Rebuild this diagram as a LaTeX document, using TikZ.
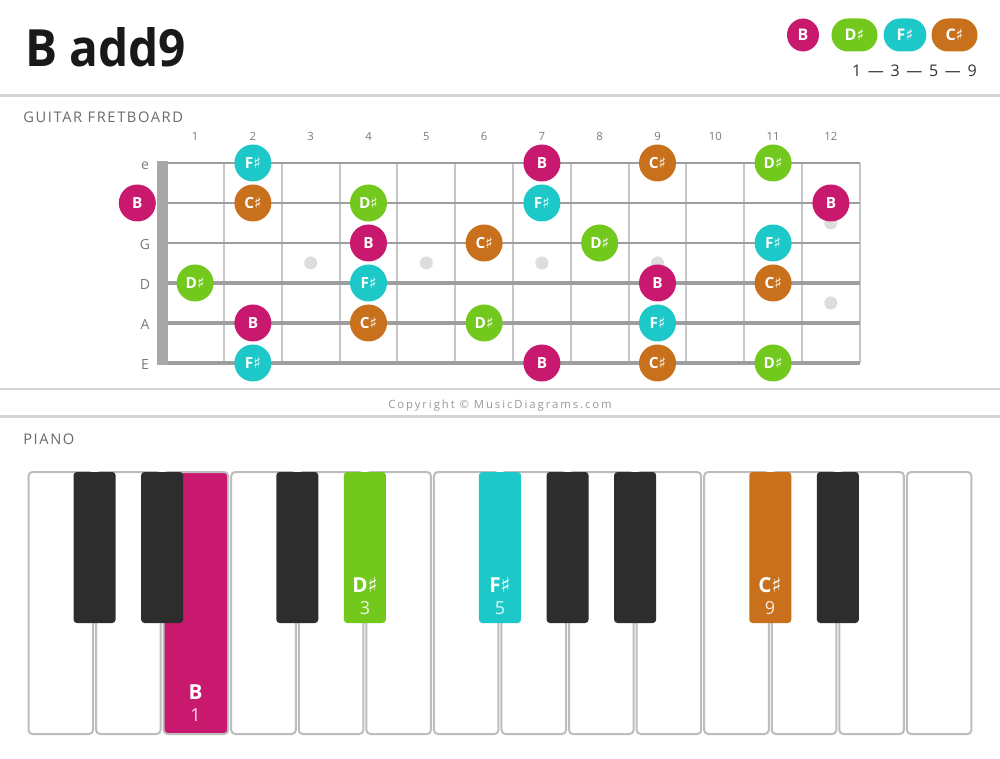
\documentclass[tikz,border=0pt]{standalone}
\usepackage{fontspec}
\setmainfont{Open Sans}
\newfontfamily\dvfont{DejaVu Sans}
\newfontfamily\capsp[LetterSpace=11]{Open Sans}
\newfontfamily\copysp[LetterSpace=17]{Open Sans}
\newcommand\sh{{\dvfont\char"266F}}
\newcommand\gapdash{\hspace{5pt}—\hspace{5pt}}
\definecolor{cB}{HTML}{C8196E}
\definecolor{cD}{HTML}{72C81C}
\definecolor{cF}{HTML}{1CC8C8}
\definecolor{cC}{HTML}{C8701C}
\definecolor{sepgray}{HTML}{D4D4D4}
\definecolor{strgray}{HTML}{9E9E9E}
\definecolor{fretgray}{HTML}{C6C6C6}
\definecolor{nutgray}{HTML}{A8A8A8}
\definecolor{dotgray}{HTML}{DDDDDD}
\definecolor{labgray}{HTML}{6A6A6A}
\definecolor{numgray}{HTML}{7A7A7A}
\definecolor{blackkey}{HTML}{2D2D2D}
\definecolor{keyedge}{HTML}{BDBDBD}
\tikzset{
  sepline/.style={draw=sepgray, line width=1.9pt},
  note/.style={circle, fill=#1, minimum size=27.75pt, inner sep=0pt, text=white,
    font=\fontsize{11.5}{12}\selectfont\bfseries, text height=8.2pt, text depth=0pt},
  pill/.style={fill=#1, rounded corners=12.3pt, minimum height=24.75pt, inner sep=0pt, text=white,
    font=\fontsize{12}{13}\selectfont\bfseries, text height=8.6pt, text depth=0pt},
  fretnum/.style={anchor=base, text=numgray, font=\fontsize{8.5}{10}\selectfont},
  strlab/.style={anchor=base, text=numgray, font=\fontsize{10.5}{12}\selectfont},
  sectitle/.style={anchor=base west, text=labgray, font=\fontsize{11}{12}\capsp},
  wkey/.style={draw=keyedge, line width=1.5pt, rounded corners=3pt},
  bkey/.style={fill=#1, rounded corners=2.5pt},
  keylab/.style={text=white, font=\fontsize{15.5}{16}\selectfont\bfseries, text height=11pt, text depth=0pt},
  keynum/.style={text=white, text opacity=0.85, font=\fontsize{13.5}{14}\selectfont, text height=9.7pt, text depth=0pt},
}
\begin{document}
\begin{tikzpicture}[x=0.75pt, y=-0.75pt]
\useasboundingbox (0,0) rectangle (1000,759);
\fill[white] (0,0) rectangle (1000,759);

% header
\node[anchor=base west, text=black!90, font=\fontsize{38.5}{40}\selectfont\bfseries, inner sep=0pt] (title) at (25,67) {\scalebox{0.93}[1]{B add9}};
\node[pill=cB, minimum width=24pt] (lgB) at (803,35) {B};
\node[pill=cD, minimum width=34.5pt] (lgD) at (854.5,35) {D\sh};
\node[pill=cF, minimum width=32pt] (lgF) at (905,35) {F\sh};
\node[pill=cC, minimum width=34.5pt] (lgC) at (954.5,35) {C\sh};
\node[anchor=base east, inner sep=0pt, text=black!80, font=\fontsize{12}{13}\selectfont] (formula) at (977,77) {1\gapdash 3\gapdash 5\gapdash 9};
\draw[sepline] (0,95.5) -- (1000,95.5);

% fretboard
\node[sectitle, inner sep=0pt] (gtitle) at (23,123) {GUITAR FRETBOARD};
\foreach \k in {1,...,12}
  \node[fretnum, inner sep=0pt] (fn\k) at ({166.2+57.8*(\k-0.5)},141) {\k};
\foreach \k in {1,...,12}
  \draw[fretgray, line width=1.5pt] ({166.2+57.8*\k},163) -- ({166.2+57.8*\k},363);
\foreach \k in {3,5,7,9}
  \fill[dotgray] ({166.2+57.8*(\k-0.5)},263) circle (4.9pt);
\fill[dotgray] ({166.2+57.8*11.5},223) circle (4.9pt);
\fill[dotgray] ({166.2+57.8*11.5},303) circle (4.9pt);
\foreach \y/\w in {163/1.6pt,203/1.9pt,243/2.1pt,283/2.3pt,323/2.5pt,363/2.8pt}
  \draw[strgray, line width=\w] (166,\y) -- (860,\y);
\fill[nutgray] (157,161) rectangle (168,365);
\foreach \s/\y in {e/163,G/243,D/283,A/323,E/363}
  \node[strlab, inner sep=0pt] (sl\s) at (145,\y+7) {\s};

\foreach \f/\y/\c/\t [count=\i] in {
  2/163/cF/F\sh, 7/163/cB/B, 9/163/cC/C\sh, 11/163/cD/D\sh,
  0/203/cB/B, 2/203/cC/C\sh, 4/203/cD/D\sh, 7/203/cF/F\sh, 12/203/cB/B,
  4/243/cB/B, 6/243/cC/C\sh, 8/243/cD/D\sh, 11/243/cF/F\sh,
  1/283/cD/D\sh, 4/283/cF/F\sh, 9/283/cB/B, 11/283/cC/C\sh,
  2/323/cB/B, 4/323/cC/C\sh, 6/323/cD/D\sh, 9/323/cF/F\sh,
  2/363/cF/F\sh, 7/363/cB/B, 9/363/cC/C\sh, 11/363/cD/D\sh}
  \node[note=\c] (n\i) at ({166.2+57.8*(\f-0.5)},\y) {\t};

\draw[sepline] (0,389) -- (1000,389);
\node[text=black!40, font=\fontsize{8.5}{9}\copysp, inner sep=0pt] (copy) at (500,406) {Copyright © MusicDiagrams.com};
\draw[sepline] (0,416.5) -- (1000,416.5);

% piano
\node[sectitle, inner sep=0pt] (ptitle) at (23,444) {PIANO};
\foreach \i in {0,...,13}{
  \ifnum\i=2
    \draw[wkey, fill=cB] ({27+67.57*\i+1.5},472) rectangle ({27+67.57*(\i+1)-1.5},734);
  \else
    \draw[wkey, fill=white] ({27+67.57*\i+1.5},472) rectangle ({27+67.57*(\i+1)-1.5},734);
  \fi
}
\foreach \j/\c in {1/blackkey,2/blackkey,4/blackkey,5/cD,7/cF,8/blackkey,9/blackkey,11/cC,12/blackkey}
  \fill[bkey=\c] ({27+67.57*\j-21},472) rectangle ({27+67.57*\j+21},623);

\node[keylab] (kB) at (195.5,692) {B};
\node[keynum] (kB1) at (195.5,715) {1};
\node[keylab] (kD) at (364.9,585) {D\sh};
\node[keynum] (kD3) at (364.9,608) {3};
\node[keylab] (kF) at (500,585) {F\sh};
\node[keynum] (kF5) at (500,608) {5};
\node[keylab] (kC) at (770,585) {C\sh};
\node[keynum] (kC9) at (770,608) {9};
\end{tikzpicture}
\end{document}
